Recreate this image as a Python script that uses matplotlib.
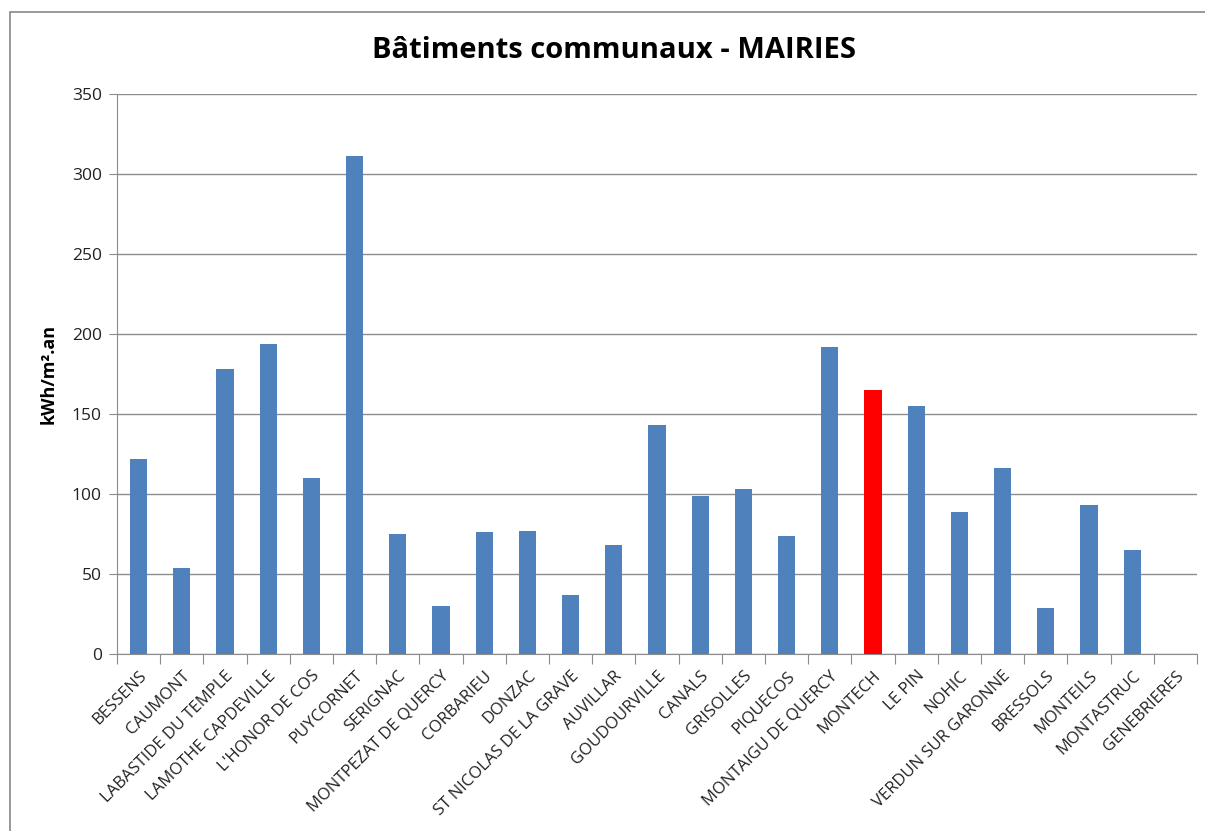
import matplotlib
matplotlib.use("Agg")
import matplotlib.pyplot as plt
from matplotlib.patches import Rectangle

categories = ["BESSENS", "CAUMONT", "LABASTIDE DU TEMPLE", "LAMOTHE CAPDEVILLE",
              "L'HONOR DE COS", "PUYCORNET", "SERIGNAC", "MONTPEZAT DE QUERCY",
              "CORBARIEU", "DONZAC", "ST NICOLAS DE LA GRAVE", "AUVILLAR",
              "GOUDOURVILLE", "CANALS", "GRISOLLES", "PIQUECOS",
              "MONTAIGU DE QUERCY", "MONTECH", "LE PIN", "NOHIC",
              "VERDUN SUR GARONNE", "BRESSOLS", "MONTEILS", "MONTASTRUC",
              "GENEBRIERES"]
values = [122, 54, 178, 194, 110, 311, 75, 30, 76, 77, 37, 68, 143, 99, 103,
          74, 192, 165, 155, 89, 116, 29, 93, 65, 0]
highlight = "MONTECH"
yticks = [0, 50, 100, 150, 200, 250, 300, 350]

plt.rcParams['font.family'] = ['Open Sans', 'DejaVu Sans']

fig = plt.figure(figsize=(12.05, 8.31), dpi=100)
fig.patches.append(Rectangle((10/1205, -0.05), 1.1, 1.05 - 12/831,
                             transform=fig.transFigure, fill=False,
                             edgecolor='#888888', linewidth=1.2))
ax = fig.add_axes([117/1205, 1 - 654/831, (1197-117)/1205, (654-94)/831])

colors = ['#ff0000' if c == highlight else '#4f81bd' for c in categories]
x = list(range(len(categories)))
ax.bar(x, values, width=0.4, color=colors, zorder=3)

ax.set_xlim(-0.5, len(categories) - 0.5)
ax.set_ylim(0, 350)
ax.set_yticks(yticks)
ax.set_yticklabels([str(t) for t in yticks], fontsize=12.5, color='#222222')
ax.yaxis.grid(True, color='#8c8c8c', linewidth=1, zorder=0)
ax.tick_params(axis='y', length=6, color='#8c8c8c', direction='out', pad=5)

ax.set_xticks([i - 0.5 for i in range(len(categories) + 1)], minor=False)
ax.set_xticklabels([])
ax.set_xticks(x, minor=True)
ax.set_xticklabels(categories, minor=True, rotation=45, ha='right',
                   rotation_mode='anchor', fontsize=12, color='#222222')
ax.tick_params(axis='x', which='major', length=7, color='#8c8c8c')
ax.tick_params(axis='x', which='minor', length=0, pad=10)

for s in ['top', 'right']:
    ax.spines[s].set_visible(False)
for s in ['left', 'bottom']:
    ax.spines[s].set_color('#8c8c8c')

ax.set_ylabel("kWh/m².an", fontsize=13, fontweight='bold', labelpad=10)
fig.text(614/1205, 1 - 50/831, "Bâtiments communaux - MAIRIES",
         ha='center', va='center', fontsize=21, fontweight='bold')

fig.savefig("out.png", dpi=100)
